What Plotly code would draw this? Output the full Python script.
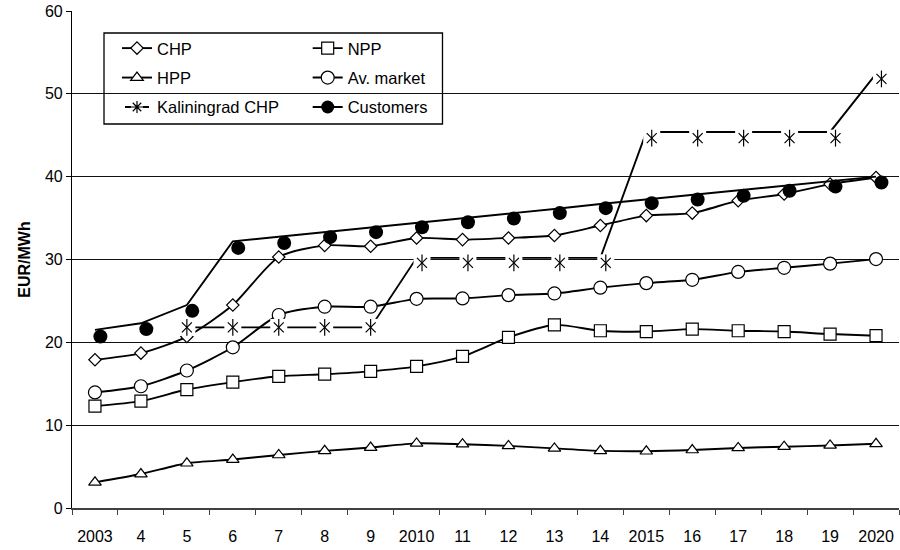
import plotly.graph_objects as go

# ---- data ----
years = ["2003", "4", "5", "6", "7", "8", "9", "2010", "11", "12", "13", "14",
         "2015", "16", "17", "18", "19", "2020"]

chp = [17.9, 18.7, 20.7, 24.5, 30.3, 31.7, 31.6, 32.6, 32.4, 32.6, 32.9, 34.1,
       35.3, 35.6, 37.1, 37.9, 39.1, 39.9]
npp = [12.3, 12.9, 14.3, 15.2, 15.9, 16.15, 16.5, 17.1, 18.3, 20.6, 22.1, 21.4,
       21.3, 21.6, 21.4, 21.3, 21.0, 20.8]
hpp = [3.1, 4.1, 5.4, 5.85, 6.4, 6.9, 7.3, 7.8, 7.7, 7.5, 7.2, 6.9,
       6.85, 7.0, 7.25, 7.4, 7.55, 7.75]
av_market = [13.95, 14.7, 16.6, 19.4, 23.3, 24.3, 24.3, 25.25, 25.3, 25.7, 25.9, 26.6,
             27.15, 27.55, 28.5, 29.0, 29.5, 30.05]
kal_line = [None, None, 21.8, 21.8, 21.8, 21.8, 21.8, 30.2, 30.2, 30.2, 30.2, 30.2,
            45.4, 45.4, 45.4, 45.4, 45.4, 52.4]
kal_marks = [None, None, 21.8, 21.8, 21.8, 21.8, 21.8, 29.6, 29.6, 29.6, 29.6, 29.6,
             44.65, 44.65, 44.65, 44.65, 44.65, 51.8]
cust_line = [21.5, 22.3, 24.5, 32.2, 32.75, 33.3, 33.9, 34.4, 35.0, 35.55, 36.1, 36.7,
             37.25, 37.8, 38.35, 38.9, 39.45, 40.0]
cust_marks = [20.7, 21.6, 23.8, 31.4, 32.0, 32.7, 33.3, 33.9, 34.5, 34.95, 35.6, 36.2,
              36.8, 37.25, 37.7, 38.3, 38.8, 39.3]

kal_shift_from = "2010"   # markers from this year on are drawn slightly offset

FONT = "Liberation Sans, Arial, sans-serif"
LW = 1.9

fig = go.Figure()


def main_series(name, y, symbol, size, legend):
    fig.add_trace(go.Scatter(
        x=years, y=y, name=name, mode="lines+markers",
        line=dict(color="black", width=LW, shape="spline", smoothing=0.7),
        marker=dict(symbol=symbol, size=size, color="white",
                    line=dict(color="black", width=1.2)),
        legend=legend, legendgroup=name))


main_series("CHP", chp, "diamond", 9.5, "legend")
main_series("NPP", npp, "square", 12, "legend2")
main_series("HPP", hpp, "triangle-up", 11, "legend")
main_series("Av. market", av_market, "circle", 13, "legend2")

# Kaliningrad CHP
fig.add_trace(go.Scatter(x=years, y=kal_line, mode="lines", showlegend=False,
                         line=dict(color="black", width=LW)))
k = years.index(kal_shift_from)
kal_a = [v if i < k else None for i, v in enumerate(kal_marks)]
kal_b = [v if i >= k else None for i, v in enumerate(kal_marks)]
for ys, xa in ((kal_a, "x"), (kal_b, "x2")):
    fig.add_trace(go.Scatter(x=years, y=ys, xaxis=xa, mode="markers", showlegend=False,
                             marker=dict(symbol="square", size=17, color="white",
                                         line=dict(width=0))))
    fig.add_trace(go.Scatter(x=years, y=ys, xaxis=xa, mode="markers", showlegend=False,
                             marker=dict(symbol="x-thin-open", size=10, color="black",
                                         line=dict(color="black", width=1.2))))
    fig.add_trace(go.Scatter(x=years, y=ys, xaxis=xa, mode="markers", showlegend=False,
                             marker=dict(symbol="line-ns-open", size=12, color="black",
                                         line=dict(color="black", width=1.2))))
fig.add_trace(go.Scatter(x=[None], y=[None], name="Kaliningrad CHP", mode="lines+markers",
                         line=dict(color="black", width=LW, dash="0px,3px,6px,12px,6px,60px"),
                         marker=dict(symbol="asterisk-open", size=10, color="black",
                                     line=dict(color="black", width=1.2)),
                         legend="legend", legendgroup="Kaliningrad CHP"))

# Customers
fig.add_trace(go.Scatter(x=years, y=cust_line, mode="lines", showlegend=False,
                         line=dict(color="black", width=LW)))
fig.add_trace(go.Scatter(x=years, y=cust_marks, xaxis="x2", mode="markers", showlegend=False,
                         marker=dict(symbol="circle", size=14, color="black")))
fig.add_trace(go.Scatter(x=[None], y=[None], name="Customers", mode="lines+markers",
                         line=dict(color="black", width=LW),
                         marker=dict(symbol="circle", size=13, color="black"),
                         legend="legend2", legendgroup="Customers"))

shift = 0.118
legend_common = dict(xanchor="left", yanchor="top", bgcolor="rgba(0,0,0,0)",
                     font=dict(family=FONT, size=16.5, color="black"),
                     tracegroupgap=5, traceorder="grouped")

fig.update_layout(
    width=900, height=550,
    margin=dict(l=72, r=1, t=11, b=42),
    paper_bgcolor="white", plot_bgcolor="white",
    font=dict(family=FONT, size=16, color="black"),
    xaxis=dict(type="category", range=[-0.5, len(years) - 0.5], tickson="boundaries",
               ticks="outside", ticklen=5, tickwidth=1.3, tickcolor="#404040",
               showline=True, linecolor="#404040", linewidth=2, showgrid=False,
               tickfont=dict(size=16), ticklabelstandoff=13, zeroline=False),
    xaxis2=dict(type="category", overlaying="x", visible=False,
                range=[-0.5 - shift, len(years) - 0.5 - shift]),
    yaxis=dict(range=[0, 60], dtick=10, showgrid=True, gridcolor="#111", gridwidth=1,
               showline=True, linecolor="black", linewidth=1.2, ticks="outside",
               ticklen=5, tickcolor="black", tickfont=dict(size=16), zeroline=False,
               title=dict(text="<b>EUR/MWh</b>", font=dict(size=16), standoff=10)),
    legend=dict(x=0.0544, y=0.96, **legend_common),
    legend2=dict(x=0.285, y=0.96, **legend_common),
    shapes=[dict(type="rect", xref="paper", yref="paper", x0=0.0387, x1=0.448,
                 y0=0.7726, y1=0.9557, fillcolor="white",
                 line=dict(color="black", width=1.3), layer="between")],
)

fig.write_html("out.html", config={"displayModeBar": False},
               post_script="document.body.style.margin='0';")
